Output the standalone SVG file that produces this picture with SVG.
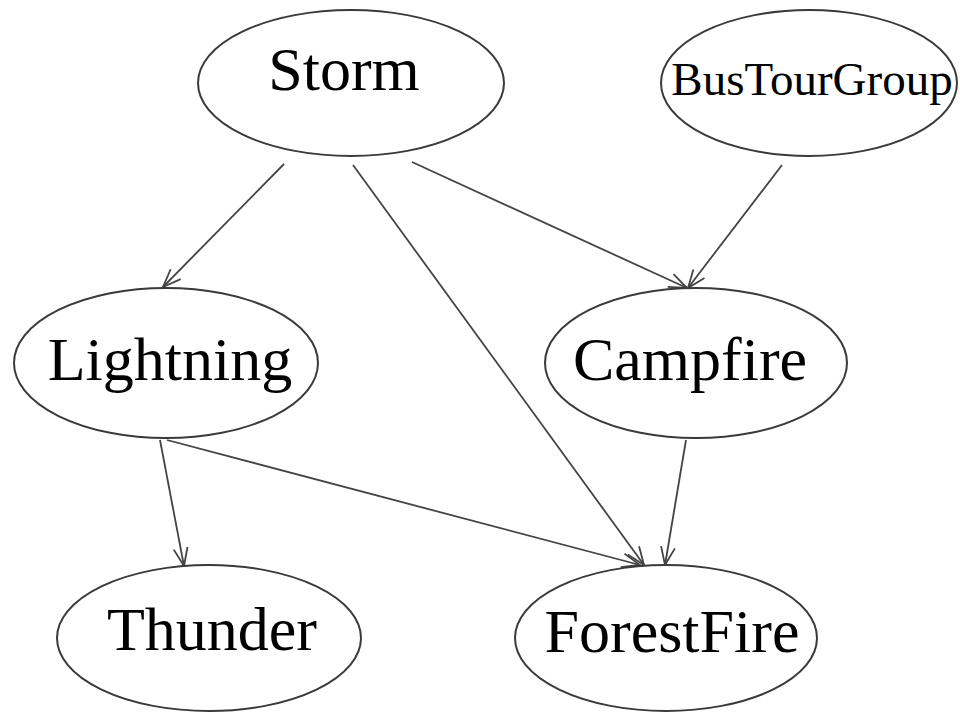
<svg xmlns="http://www.w3.org/2000/svg" width="960" height="718" viewBox="0 0 960 718">
<style>
.node ellipse{fill:#fff;stroke:#3a3a3a;stroke-width:2}
.node text{font-family:"Liberation Serif","Times New Roman",serif;font-size:62px;fill:#000;text-anchor:middle}
.edge{stroke:#444;stroke-width:1.8;fill:none;marker-end:url(#arr)}
</style>
<defs>
<marker id="arr" markerUnits="userSpaceOnUse" markerWidth="24" markerHeight="20" viewBox="-2 -10 24 20" refX="18" refY="0" orient="auto">
<path d="M0,-7 L18,0 L0,7" fill="none" stroke="#444" stroke-width="1.8"/>
</marker>
</defs>
<rect width="960" height="718" fill="#fff"/>
<g id="connectors">
<line class="edge" x1="284" y1="164" x2="163" y2="287"/>
<line class="edge" x1="353" y1="165" x2="644" y2="565"/>
<line class="edge" x1="412" y1="162" x2="687" y2="288"/>
<line class="edge" x1="782" y1="165" x2="688" y2="288"/>
<line class="edge" x1="160" y1="440" x2="184" y2="566"/>
<line class="edge" x1="167" y1="440" x2="640" y2="565"/>
<line class="edge" x1="686" y1="440" x2="665" y2="565"/>
</g>
<g id="Storm" class="node"><ellipse cx="351" cy="83" rx="153" ry="73"/><text x="344" y="90">Storm</text></g>
<g id="BusTourGroup" class="node"><ellipse cx="809" cy="83" rx="148" ry="73"/><text x="812" y="95" style="font-size:47px">BusTourGroup</text></g>
<g id="Lightning" class="node"><ellipse cx="166" cy="363" rx="152" ry="75"/><text x="170" y="380">Lightning</text></g>
<g id="Campfire" class="node"><ellipse cx="696" cy="363" rx="151" ry="75"/><text x="690" y="380">Campfire</text></g>
<g id="Thunder" class="node"><ellipse cx="209" cy="638" rx="152" ry="73"/><text x="212" y="650">Thunder</text></g>
<g id="ForestFire" class="node"><ellipse cx="666" cy="638" rx="151" ry="73"/><text x="672" y="652">ForestFire</text></g>
</svg>
